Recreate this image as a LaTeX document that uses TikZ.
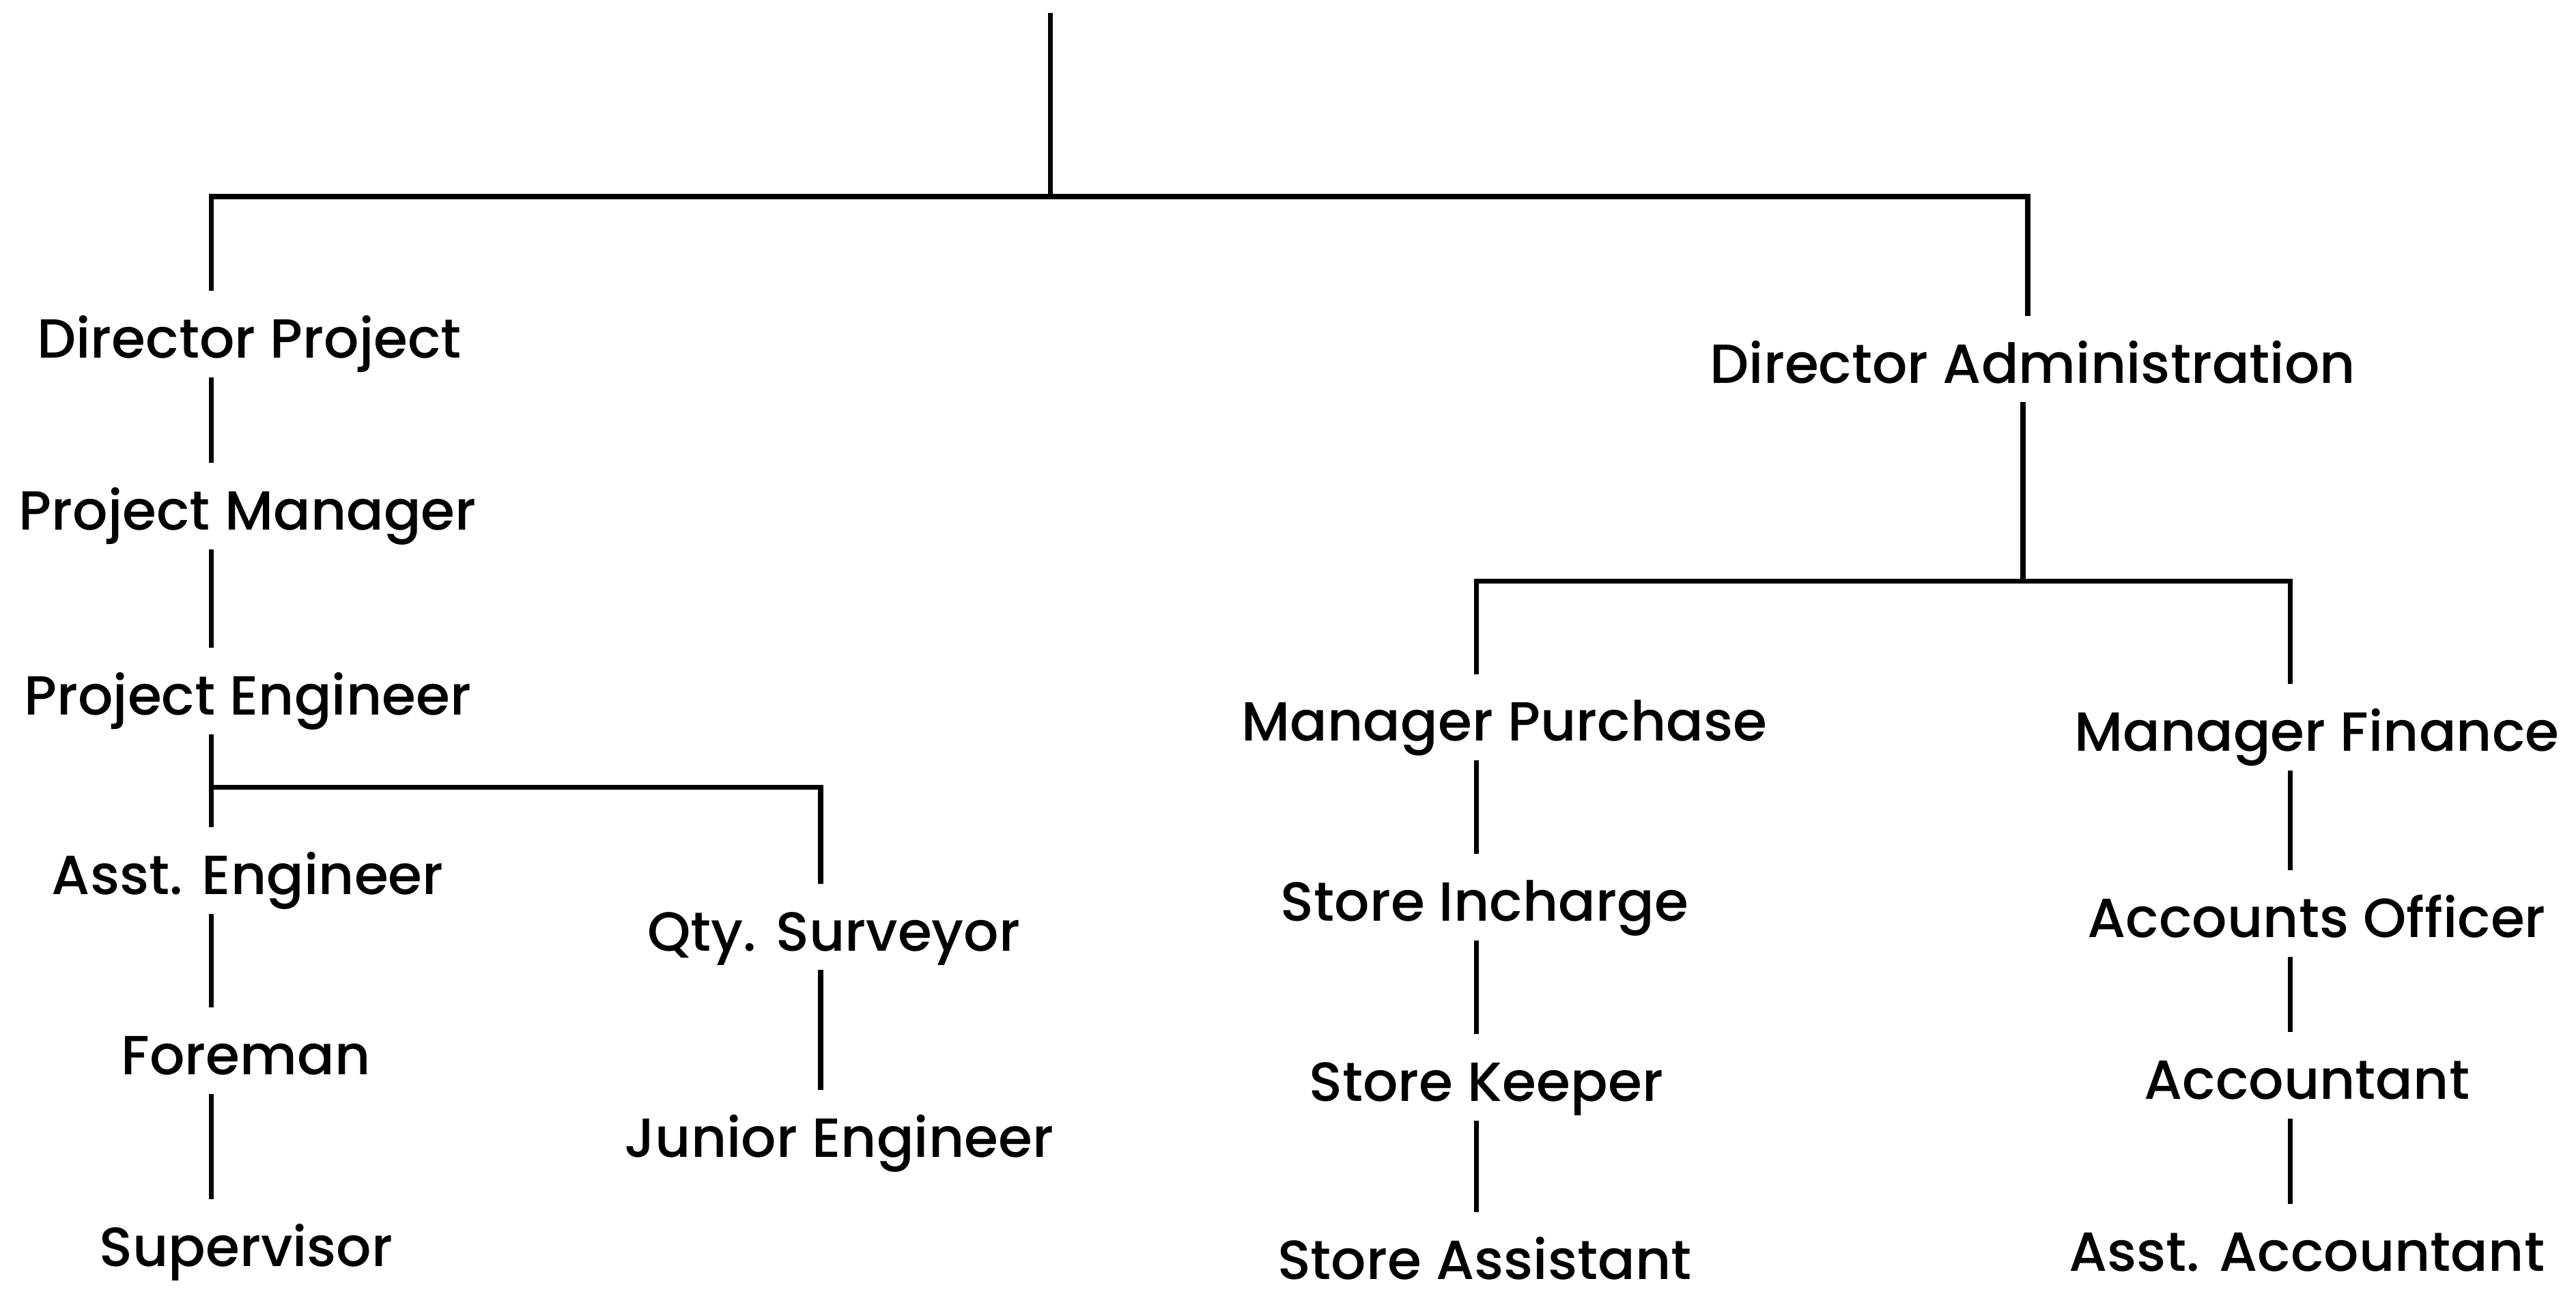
\documentclass[tikz,border=0pt]{standalone}
\usepackage{fontspec}
\setmainfont{Poppins}[UprightFont=* Medium]

\tikzset{
  role/.style={anchor=base, inner sep=0pt, font=\fontsize{9.5}{11}\selectfont,
               text height=4.0mm, text depth=1.1mm},
  link/.style={line width=0.88pt},
}

\begin{document}
\begin{tikzpicture}[x=0.1mm,y=-0.1mm]
\useasboundingbox (0,0) rectangle (1560,782.3);

\node[role] (dirP) at (151,217) {Director Project};
\node[role] (pm)   at (150,321) {Project Manager};
\node[role] (pe)   at (150,433) {Project Engineer};
\node[role] (ae)   at (150,542) {Asst. Engineer};
\node[role] (fm)   at (149,651) {Foreman};
\node[role] (sv)   at (149,767) {Supervisor};
\node[role] (qs)   at (505,576) {Qty. Surveyor};
\node[role] (je)   at (508,701) {Junior Engineer};

\node[role] (dirA) at (1231,232) {Director Administration};
\node[role] (mp)   at (911,449)  {Manager Purchase};
\node[role] (si)   at (899,558)  {Store Incharge};
\node[role] (sk)   at (900,667)  {Store Keeper};
\node[role] (sa)   at (899,775)  {Store Assistant};
\node[role] (mf)   at (1403,455) {Manager Finance};
\node[role] (ao)   at (1403,568) {Accounts Officer};
\node[role] (acc)  at (1397,666) {Accountant};
\node[role] (aa)   at (1397,770) {Asst. Accountant};

\coordinate (top)  at (636,8);
\coordinate (hub)  at (636,119);
\coordinate (colA) at (128,119);
\coordinate (colC) at (1228,119);
\coordinate (peJ)  at (128,477);
\coordinate (colB) at (497,477);
\coordinate (adJ)  at (1225,352);
\coordinate (colD) at (894,352);
\coordinate (colE) at (1387,352);

\draw[link] (top) -- (hub);
\draw[link] (dirP.north -| colA) |- (hub) -| (dirA.north -| colC);

\draw[link] (dirP.south -| colA) -- (pm.north -| colA);
\draw[link] (pm.south -| colA) -- (pe.north -| colA);
\draw[link] (pe.south -| colA) -- (ae.north -| colA);
\draw[link] (peJ) -| (qs.north -| colB);
\draw[link] (ae.south -| colA) -- (fm.north -| colA);
\draw[link] (fm.south -| colA) -- (sv.north -| colA);
\draw[link] (qs.south -| colB) -- (je.north -| colB);

\draw[link] (dirA.south -| adJ) -- (adJ);
\draw[link] (mp.north -| colD) |- (adJ) -| (mf.north -| colE);
\draw[link] (mp.south -| colD) -- (si.north -| colD);
\draw[link] (si.south -| colD) -- (sk.north -| colD);
\draw[link] (sk.south -| colD) -- (sa.north -| colD);
\draw[link] (mf.south -| colE) -- (ao.north -| colE);
\draw[link] (ao.south -| colE) -- (acc.north -| colE);
\draw[link] (acc.south -| colE) -- (aa.north -| colE);

\end{tikzpicture}
\end{document}
